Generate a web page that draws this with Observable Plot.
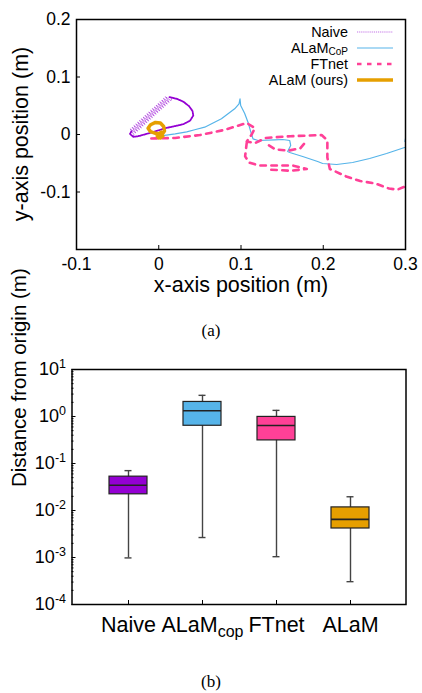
<!DOCTYPE html>
<html><head><meta charset="utf-8">
<script src="https://cdn.jsdelivr.net/npm/d3@7"></script>
<script src="https://cdn.jsdelivr.net/npm/@observablehq/plot@0.6"></script>
<style>
body{margin:0;background:#fff;width:422px;height:693px;position:relative;overflow:hidden;font-family:"Liberation Sans",Arial,Helvetica,sans-serif;color:#000}
.abs{position:absolute}
.cap{font-family:"Liberation Serif","Times New Roman",serif;font-size:17px;line-height:17px;width:422px;text-align:center;left:0}
.lg{position:absolute;right:74px;font-size:14.4px;line-height:14px;height:14px;white-space:nowrap;text-align:right}
.lgs{position:absolute;left:357px;width:36px;height:10px;overflow:visible}
.ytitle{position:absolute;white-space:nowrap;font-size:21.5px;line-height:21.5px;transform:translate(-50%,-50%) rotate(-90deg)}
</style></head><body>
<div id="top" class="abs" style="left:0;top:0"></div>
<div id="ytop" class="ytitle" style="left:21.5px;top:134px"></div>
<div id="legend"></div>
<div class="abs cap" style="top:322px">(a)</div>
<div id="bottom" class="abs" style="left:0;top:350px"></div>
<div class="abs cap" style="top:673px">(b)</div>
<script>
// ---------- (a) trajectory data ----------
const xTicks = [-0.1, 0, 0.1, 0.2, 0.3];
const xTickLabels = ["-0.1", "0", "0.1", "0.2", "0.3"];
const yTicks = [0.2, 0.1, 0, -0.1];
const yTickLabels = ["0.2", "0.1", "0", "-0.1"];
const xTitle = "x-axis position (m)";
const yTitle = "y-axis position (m)";

// Naive: oscillating climb on the upper-left side of the loop
const naiveOscillation = [
  [-0.031,-0.003],
  [-0.0302,-0.0002],[-0.0347,0.0097],[-0.0280,0.0028],[-0.0324,0.0126],[-0.0257,0.0057],[-0.0302,0.0156],
  [-0.0235,0.0087],[-0.0279,0.0185],[-0.0212,0.0116],[-0.0257,0.0215],[-0.0190,0.0146],[-0.0234,0.0244],
  [-0.0167,0.0175],[-0.0212,0.0274],[-0.0145,0.0205],[-0.0189,0.0303],[-0.0122,0.0234],[-0.0167,0.0333],
  [-0.0100,0.0264],[-0.0144,0.0362],[-0.0077,0.0293],[-0.0122,0.0392],[-0.0055,0.0323],[-0.0099,0.0421],
  [-0.0032,0.0352],[-0.0077,0.0451],[-0.0010,0.0382],[-0.0054,0.0480],[0.0013,0.0411],[-0.0032,0.0510],
  [0.0036,0.0441],[-0.0009,0.0539],[0.0058,0.0470],[0.0013,0.0569],[0.0081,0.0500],[0.0036,0.0598],
  [0.0103,0.0529],[0.0058,0.0628],[0.0126,0.0559],[0.0081,0.0657],[0.0148,0.0588],[0.016,0.0635]
];
// Naive: the rest of the loop (top, right side, bottom back to the left tip)
const naiveLoop = [
  [0.013,0.0650],[0.022,0.062],[0.030,0.057],[0.037,0.049],[0.041,0.041],[0.042,0.033],
  [0.038,0.024],[0.030,0.018],[0.018,0.014],[0.008,0.011],[-0.005,0.005],[-0.015,0.001],
  [-0.025,-0.003],[-0.031,-0.004],[-0.035,0.001],[-0.033,0.006]
];
const alamCop = [
  [0.005,-0.002],[0.020,0.001],[0.034,0.0045],[0.0437,0.0082],[0.0559,0.0127],[0.0762,0.0273],
  [0.0923,0.0447],[0.0976,0.0534],[0.0988,0.0621],[0.0996,0.0504],[0.1045,0.0365],[0.1085,0.0214],
  [0.1126,0.0012],[0.1146,-0.0075],[0.1207,-0.0104],[0.141,-0.0092],[0.1507,-0.0087],[0.1592,-0.0104],
  [0.1604,-0.0191],[0.1567,-0.0296],[0.1592,-0.0313],[0.175,-0.0383],[0.1932,-0.047],[0.1993,-0.0504],
  [0.2163,-0.0522],[0.2357,-0.0487],[0.2564,-0.0417],[0.277,-0.033],[0.2989,-0.0226],[0.305,-0.020],
  [0.2993,-0.012],[0.300,-0.007],[0.306,-0.004]
];
// NaN rows mark gaps between recorded pieces of the path
const ftnet = [
  [-0.009,-0.007],[0.020,-0.006],[0.050,-0.001],[0.080,0.008],[0.107,0.020],[0.117,0.011],
  [0.113,0.000],[0.107,-0.012],[0.117,-0.015],[0.130,-0.006],[0.160,-0.003],[0.198,-0.001],
  [0.205,-0.010],[0.205,-0.040],[0.208,-0.060],[0.228,-0.073],[0.245,-0.081],[0.263,-0.085],
  [0.280,-0.094],[0.290,-0.096],[0.300,-0.090],[0.310,-0.088],
  [NaN,NaN],
  [0.107,-0.014],[0.105,-0.038],[0.110,-0.049],[0.122,-0.054],[0.163,-0.054],[0.180,-0.060],
  [0.160,-0.063],[0.134,-0.061],
  [NaN,NaN],
  [0.134,-0.019],[0.142,-0.026],[0.158,-0.028],[0.172,-0.024],[0.178,-0.014]
];
const alam = [
  [0.002,-0.006],[0.004,0.000],[0.007,0.006],[0.006,0.014],[0.002,0.020],[-0.004,0.021],
  [-0.010,0.017],[-0.013,0.011],[-0.010,0.005],[-0.004,0.002],[0.002,0.001],[0.005,-0.003],
  [0.000,-0.006],[-0.002,-0.002],[0.003,0.004]
];
const legendLabels = ["Naive", "ALaM<sub>CoP</sub>", "FTnet", "ALaM (ours)"];

// ---------- (b) box plot data ----------
const categories = ["Naive", "ALaMcop", "FTnet", "ALaM"];
const whiskerLow = [0.00098, 0.00266, 0.00104, 0.000306];
const quart1 = [0.0221, 0.635, 0.31, 0.00414];
const medians = [0.0344, 1.33, 0.645, 0.00646];
const quart3 = [0.0525, 2.04, 0.98, 0.01164];
const whiskerHigh = [0.0705, 2.82, 1.35, 0.0196];
const boxColors = ["#9400d3", "#56b4e9", "#ff4097", "#e69f00"];
const yTitleB = "Distance from origin (m)";

// styles
const naiveOscStyle = {stroke:"#9400d3", strokeOpacity:0.55, strokeWidth:1.0, strokeDasharray:"1.2,0.9"};
const naiveStyle = {stroke:"#9400d3", strokeWidth:1.8, strokeDasharray:"1.5,0.8"};
const copStyle = {stroke:"#56b4e9", strokeWidth:1.2};
const ftStyle = {stroke:"#ff4097", strokeWidth:2.6, strokeDasharray:"5.5,5.5"};
const alamStyle = {stroke:"#e69f00", strokeWidth:3.5};
const styles = [naiveOscStyle, copStyle, ftStyle, alamStyle];

const X = d => d[0], Y = d => d[1];
const topPlot = Plot.plot({
  width: 422, height: 300,
  marginLeft: 76, marginRight: 17, marginTop: 19, marginBottom: 51,
  x: {domain: [-0.1, 0.3]},
  y: {domain: [-0.2, 0.2]},
  style: {fontFamily: '"Liberation Sans",Arial,sans-serif', color: "#000", background: "white", overflow: "visible"},
  marks: [
    Plot.line(naiveOscillation, {x: X, y: Y, clip: true, ...naiveOscStyle}),
    Plot.line(naiveLoop, {x: X, y: Y, clip: true, ...naiveStyle}),
    Plot.line(alamCop, {x: X, y: Y, clip: true, ...copStyle}),
    Plot.line(ftnet, {x: X, y: Y, clip: true, ...ftStyle}),
    Plot.line(alam, {x: X, y: Y, clip: true, strokeLinejoin: "round", ...alamStyle}),
    Plot.frame({stroke: "#000", strokeWidth: 1.5}),
    Plot.axisX(xTicks, {tickSize: -4, tickFormat: () => "", label: null}),
    Plot.axisX(xTicks, {tickSize: 0, tickPadding: 8, fontSize: 17.5, tickFormat: d => xTickLabels[xTicks.indexOf(d)], label: null}),
    Plot.axisY(yTicks, {tickSize: -4, tickFormat: () => "", label: null}),
    Plot.axisY(yTicks, {tickSize: 0, tickPadding: 6, fontSize: 17.5, tickFormat: d => yTickLabels[yTicks.indexOf(d)], label: null}),
    Plot.text([xTitle], {text: d => d, frameAnchor: "bottom", dy: 35.6, fontSize: 21.5, lineAnchor: "middle"})
  ]
});
document.getElementById("top").appendChild(topPlot);
document.getElementById("ytop").textContent = yTitle;

// legend
const legendRowsY = [32.3, 48, 64, 80];
const lg = document.getElementById("legend");
legendLabels.forEach((lab, i) => {
  const t = document.createElement("div");
  t.className = "lg";
  t.style.top = (legendRowsY[i] - 7.5) + "px";
  t.innerHTML = lab.replace("<sub>", '<span style="font-size:10px;vertical-align:-2px;line-height:0">').replace("</sub>", "</span>");
  lg.appendChild(t);
  const s = styles[i];
  const svg = document.createElementNS("http://www.w3.org/2000/svg", "svg");
  svg.setAttribute("class", "lgs");
  svg.style.top = (legendRowsY[i] - 5) + "px";
  const ln = document.createElementNS("http://www.w3.org/2000/svg", "line");
  ln.setAttribute("x1", 0); ln.setAttribute("x2", 36); ln.setAttribute("y1", 5); ln.setAttribute("y2", 5);
  ln.setAttribute("stroke", s.stroke);
  ln.setAttribute("stroke-width", s.strokeWidth);
  if (s.strokeOpacity) ln.setAttribute("stroke-opacity", s.strokeOpacity);
  if (s.strokeDasharray) ln.setAttribute("stroke-dasharray", i === 2 ? "4.5,5.5" : s.strokeDasharray);
  svg.appendChild(ln);
  lg.appendChild(svg);
});

// ---------- bottom ----------
const rows = categories.map((c, i) => ({cat: c, lo: whiskerLow[i], q1: quart1[i], med: medians[i], q3: quart3[i], hi: whiskerHigh[i]}));
const majorTicks = [1e-4, 1e-3, 1e-2, 1e-1, 1, 10];
const minorTicks = [];
for (let e = -4; e <= 0; e++) for (let m = 2; m <= 9; m++) minorTicks.push(m * Math.pow(10, e));

const bottomPlot = Plot.plot({
  width: 422, height: 300,
  marginLeft: 71.5, marginRight: 16.5, marginTop: 19, marginBottom: 46,
  x: {type: "band", domain: categories, paddingInner: 0.49, paddingOuter: 0.4835},
  y: {type: "log", domain: [1e-4, 10]},
  color: {domain: categories, range: boxColors},
  style: {fontFamily: '"Liberation Sans",Arial,sans-serif', color: "#000", background: "white", overflow: "visible"},
  marks: [
    Plot.ruleX(rows, {x: "cat", y1: "lo", y2: "hi", stroke: "#444", strokeWidth: 1.4}),
    Plot.barY(rows, {x: "cat", y1: "q1", y2: "q3", fill: "cat", stroke: "#222", strokeWidth: 1.2}),
    Plot.tickY(rows, {x: "cat", y: "med", stroke: "#222", strokeWidth: 1.6}),
    Plot.tickY(rows, {x: "cat", y: "hi", stroke: "#444", strokeWidth: 1.4, insetLeft: 15.5, insetRight: 15.5}),
    Plot.tickY(rows, {x: "cat", y: "lo", stroke: "#444", strokeWidth: 1.4, insetLeft: 15.5, insetRight: 15.5}),
    Plot.frame({stroke: "#000", strokeWidth: 1.5}),
    Plot.axisY(minorTicks, {tickSize: -2, tickFormat: () => "", label: null}),
    Plot.axisY(majorTicks, {tickSize: -4, tickFormat: () => "", label: null}),
    Plot.axisY(majorTicks, {tickSize: 0, tickPadding: 6, fontSize: 18, tickFormat: d => "10^" + Math.round(Math.log10(d)), label: null}),
    Plot.axisX({tickSize: -4, tickFormat: () => "", label: null}),
    Plot.axisX({tickSize: 0, tickPadding: 12.4, fontSize: 21.5, label: null}),
    Plot.text([yTitleB], {text: d => d, frameAnchor: "left", rotate: -90, dx: -53, fontSize: 20.5, lineAnchor: "middle"})
  ]
});
const NS = "http://www.w3.org/2000/svg";
bottomPlot.querySelectorAll("text").forEach(t => {
  const s = t.textContent;
  const m = s.match(/^10\^(-?\d+)$/);
  if (m) {
    t.textContent = "";
    const a = document.createElementNS(NS, "tspan"); a.textContent = "10";
    const b = document.createElementNS(NS, "tspan"); b.textContent = m[1];
    b.setAttribute("dy", "-7"); b.setAttribute("font-size", "12.5");
    t.appendChild(a); t.appendChild(b);
  } else if (s === "ALaMcop") {
    t.textContent = "";
    const a = document.createElementNS(NS, "tspan"); a.textContent = "ALaM";
    const b = document.createElementNS(NS, "tspan"); b.textContent = "cop";
    b.setAttribute("dy", "5"); b.setAttribute("font-size", "16");
    t.appendChild(a); t.appendChild(b);
  }
});
document.getElementById("bottom").appendChild(bottomPlot);
</script>
</body></html>
